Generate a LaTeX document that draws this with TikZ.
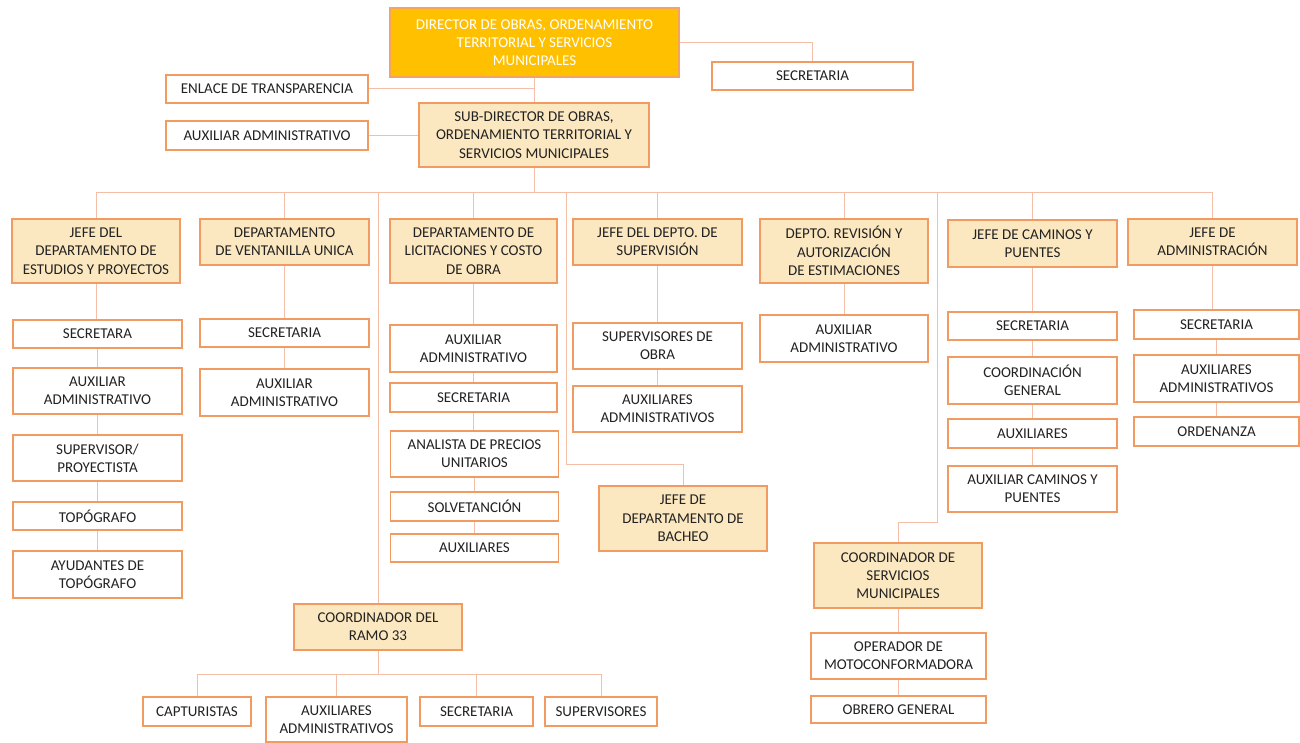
\documentclass[tikz,border=0pt]{standalone}
\usepackage{fontspec}
\setmainfont{Carlito}
\definecolor{dirfill}{HTML}{FFC000}
\definecolor{dirdraw}{HTML}{F4A460}
\definecolor{headfill}{HTML}{FCE8C0}
\definecolor{boxdraw}{HTML}{F19A62}
\definecolor{linecol}{HTML}{F4BFA6}
\definecolor{txt}{HTML}{222222}
\tikzset{
  base/.style={rectangle, inner sep=0pt, align=center, text=txt, line width=1.2pt, draw=boxdraw,
    font=\fontsize{15}{18.3}\selectfont},
  wbox/.style={base, fill=white},
  hbox/.style={base, fill=headfill},
  dbox/.style={base, fill=dirfill, draw=dirdraw, text=white},
  conn/.style={draw=linecol, line width=1pt}
}
\begin{document}
\begin{tikzpicture}[x=1pt, y=-1pt]
\useasboundingbox (0,0) rectangle (1300,743);
\fill[white] (0,0) rectangle (1300,743);

% top level
\node[dbox, minimum width=289pt, minimum height=69pt] (dir) at (534.5,42.5) {DIRECTOR DE OBRAS, ORDENAMIENTO\\TERRITORIAL Y SERVICIOS\\MUNICIPALES};
\node[wbox, minimum width=201pt, minimum height=28pt] (sectop) at (812.5,76) {SECRETARIA};
\node[wbox, minimum width=202pt, minimum height=28pt] (enlace) at (267,89) {ENLACE DE TRANSPARENCIA};
\node[wbox, minimum width=202pt, minimum height=29pt] (auxtop) at (267,135.5) {AUXILIAR ADMINISTRATIVO};
\node[hbox, minimum width=230pt, minimum height=64pt] (sub) at (534,135) {SUB-DIRECTOR DE OBRAS,\\ORDENAMIENTO TERRITORIAL Y\\SERVICIOS MUNICIPALES};

% heads
\node[hbox, minimum width=168pt, minimum height=64pt] (h1) at (96,251) {JEFE DEL\\DEPARTAMENTO DE\\ESTUDIOS Y PROYECTOS};
\node[hbox, minimum width=169pt, minimum height=46pt] (h2) at (284.5,242) {DEPARTAMENTO\\DE VENTANILLA UNICA};
\node[hbox, minimum width=167pt, minimum height=64pt] (h3) at (473.5,251) {DEPARTAMENTO DE\\LICITACIONES Y COSTO\\DE OBRA};
\node[hbox, minimum width=169pt, minimum height=46pt] (h4) at (657.5,242) {JEFE DEL DEPTO. DE\\SUPERVISIÓN};
\node[hbox, minimum width=168pt, minimum height=64pt] (h5) at (844,251) {DEPTO. REVISIÓN Y\\AUTORIZACIÓN\\DE ESTIMACIONES};
\node[hbox, minimum width=169pt, minimum height=47pt] (h6) at (1032.5,243.5) {JEFE DE CAMINOS Y\\PUENTES};
\node[hbox, minimum width=169pt, minimum height=46pt] (h7) at (1212.5,242) {JEFE DE\\ADMINISTRACIÓN};

% column 1
\node[wbox, minimum width=169pt, minimum height=28pt] (c1a) at (97.5,334) {SECRETARA};
\node[wbox, minimum width=169pt, minimum height=46pt] (c1b) at (97.5,391) {AUXILIAR\\ADMINISTRATIVO};
\node[wbox, minimum width=169pt, minimum height=46pt] (c1c) at (97.5,458) {SUPERVISOR/\\PROYECTISTA};
\node[wbox, minimum width=169pt, minimum height=28pt] (c1d) at (97.5,516) {TOPÓGRAFO};
\node[wbox, minimum width=169pt, minimum height=47pt] (c1e) at (97.5,574.5) {AYUDANTES DE\\TOPÓGRAFO};

% column 2
\node[wbox, minimum width=169pt, minimum height=28pt] (c2a) at (284.5,333) {SECRETARIA};
\node[wbox, minimum width=169pt, minimum height=47pt] (c2b) at (284.5,392.5) {AUXILIAR\\ADMINISTRATIVO};

% column 3
\node[wbox, minimum width=167pt, minimum height=47pt] (c3a) at (473.5,348.5) {AUXILIAR\\ADMINISTRATIVO};
\node[wbox, minimum width=167pt, minimum height=29pt] (c3b) at (473.5,397.5) {SECRETARIA};
\node[wbox, minimum width=168pt, minimum height=46pt] (c3c) at (474.5,454) {ANALISTA DE PRECIOS\\UNITARIOS};
\node[wbox, minimum width=168pt, minimum height=29pt] (c3d) at (474.5,506.5) {SOLVETANCIÓN};
\node[wbox, minimum width=168pt, minimum height=28pt] (c3e) at (474.5,548) {AUXILIARES};

% column 4
\node[wbox, minimum width=169pt, minimum height=46pt] (c4a) at (657.5,346) {SUPERVISORES DE\\OBRA};
\node[wbox, minimum width=169pt, minimum height=46pt] (c4b) at (657.5,409) {AUXILIARES\\ADMINISTRATIVOS};
\node[hbox, minimum width=168pt, minimum height=65pt] (bach) at (683,518.5) {JEFE DE\\DEPARTAMENTO DE\\BACHEO};

% column 5
\node[wbox, minimum width=168pt, minimum height=47pt] (c5a) at (844,338.5) {AUXILIAR\\ADMINISTRATIVO};

% column 6
\node[wbox, minimum width=169pt, minimum height=28pt] (c6a) at (1032.5,326) {SECRETARIA};
\node[wbox, minimum width=169pt, minimum height=47pt] (c6b) at (1032.5,380.5) {COORDINACIÓN\\GENERAL};
\node[wbox, minimum width=169pt, minimum height=29pt] (c6c) at (1032.5,433.5) {AUXILIARES};
\node[wbox, minimum width=169pt, minimum height=46pt] (c6d) at (1032.5,489) {AUXILIAR CAMINOS Y\\PUENTES};

% column 7
\node[wbox, minimum width=165pt, minimum height=29pt] (c7a) at (1216.5,324.5) {SECRETARIA};
\node[wbox, minimum width=165pt, minimum height=47pt] (c7b) at (1216.5,378.5) {AUXILIARES\\ADMINISTRATIVOS};
\node[wbox, minimum width=165pt, minimum height=29pt] (c7c) at (1216.5,431.5) {ORDENANZA};

% servicios
\node[hbox, minimum width=168pt, minimum height=65pt] (serv) at (898,575.5) {COORDINADOR DE\\SERVICIOS\\MUNICIPALES};
\node[wbox, minimum width=175pt, minimum height=46pt] (oper) at (898.5,656) {OPERADOR DE\\MOTOCONFORMADORA};
\node[wbox, minimum width=175pt, minimum height=27pt] (obr) at (898.5,709.5) {OBRERO GENERAL};

% ramo 33
\node[hbox, minimum width=168pt, minimum height=46pt] (ramo) at (378,627) {COORDINADOR DEL\\RAMO 33};
\node[wbox, minimum width=108pt, minimum height=29pt] (r1) at (197,711.5) {CAPTURISTAS};
\node[wbox, minimum width=141pt, minimum height=45pt] (r2) at (336.5,719.5) {AUXILIARES\\ADMINISTRATIVOS};
\node[wbox, minimum width=113pt, minimum height=29pt] (r3) at (476.5,711.5) {SECRETARIA};
\node[wbox, minimum width=112pt, minimum height=29pt] (r4) at (601,711.5) {SUPERVISORES};

% coordinates
\coordinate (busL) at (96,193);
\coordinate (busR) at (1213,193);
\coordinate (bk) at (566,464);
\coordinate (sv) at (937,522);
\coordinate (bus2L) at (197,674);
\coordinate (bus2R) at (601,674);

% connectors top
\draw[conn] (dir.south) -- (dir.south |- sub.north);
\draw[conn] (enlace.east) -- (enlace.east -| dir.south);
\draw[conn] (auxtop.east) -- (auxtop.east -| sub.west);
\draw[conn] (dir.east) -| (sectop.north);
\draw[conn] (sub.south) -- (sub.south |- busL);
\draw[conn] (busL) -- (busR);
\foreach \h in {h1,h2,h3,h4,h5,h6,h7,ramo} {\draw[conn] (\h.north) -- (\h.north |- busL);}
\draw[conn] (bk |- busL) -- (bk) -| (bach.north);
\draw[conn] (sv |- busL) -- (sv) -| (serv.north);

% column chains
\foreach \a/\b in {h1/c1a,c1a/c1b,c1b/c1c,c1c/c1d,c1d/c1e,
  h2/c2a,c2a/c2b,
  h3/c3a,c3a/c3b,c3b/c3c,c3c/c3d,c3d/c3e,
  h4/c4a,c4a/c4b,
  h5/c5a,
  h6/c6a,c6a/c6b,c6b/c6c,c6c/c6d,
  h7/c7a,c7a/c7b,c7b/c7c,
  serv/oper,oper/obr}
  {\draw[conn] (\a.south) -- (\a.south |- \b.north);}

% ramo bus
\draw[conn] (ramo.south) -- (ramo.south |- bus2L);
\draw[conn] (bus2L) -- (bus2R);
\foreach \r in {r1,r2,r3,r4} {\draw[conn] (\r.north) -- (\r.north |- bus2L);}
\end{tikzpicture}
\end{document}
